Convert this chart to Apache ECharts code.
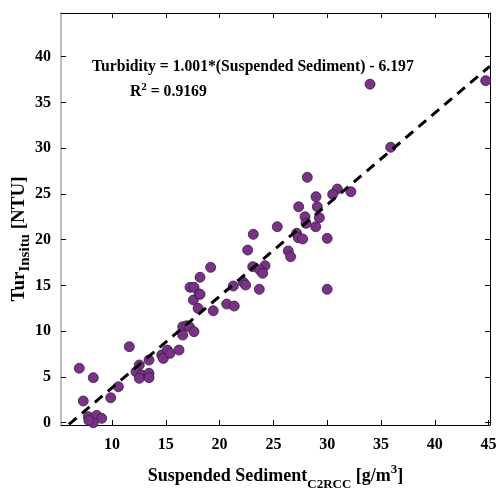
<!DOCTYPE html>
<html><head><meta charset="utf-8">
<script src="https://cdn.jsdelivr.net/npm/echarts@6/dist/echarts.min.js"></script>
<style>html,body{margin:0;padding:0;background:#fff}#c{width:496px;height:490px}</style>
</head><body><div id="c"></div>
<script>
// Suspended sediment (C2RCC) [g/m3]
var sediment = [6.96,8.26,7.33,7.8,8.58,9.04,8.26,7.85,9.88,10.59,11.61,12.54,12.23,12.76,12.54,13.44,13.44,13.44,
  14.62,14.77,15.14,15.39,16.23,16.57,16.57,16.95,17.19,17.62,17.25,17.62,17.56,18.1,18.0,
  28.15,28.96,29.08,27.35,27.94,28.03,29.27,28.93,30.0,25.36,23.13,27.16,27.31,27.72,22.61,26.38,26.6,
  24.22,23.08,23.75,24.0,22.2,22.42,23.69,30.0,21.27,20.66,21.36,19.41,19.17,18.18,18.18,
  33.98,44.73,35.9,30.94,30.51,32.2];
// In-situ turbidity [NTU]
var turbidity = [5.95,4.92,2.37,0.66,0.8,0.48,0.0,0.25,2.73,3.93,8.31,6.31,5.57,5.21,4.85,6.85,5.4,4.92,
  7.4,7.03,7.94,7.58,7.94,10.49,9.58,10.6,10.49,9.95,14.8,14.8,13.41,14.07,12.5,
  26.82,24.7,23.6,23.6,22.51,21.79,22.4,21.42,20.15,21.42,20.59,20.7,20.22,20.08,18.87,18.77,18.14,
  17.16,17.05,16.69,16.33,15.34,15.05,14.58,14.58,14.94,12.97,12.75,12.24,16.98,15.89,14.03,
  37.0,37.38,30.1,25.54,24.96,25.25];
var xTicks = [10,15,20,25,30,35,40,45];
var yTicks = [0,5,10,15,20,25,30,35,40];
var fitSlope = 1.001, fitIntercept = -6.197;
var fitRange = [6.0, 45.1];
var equationText = 'Turbidity = 1.001*(Suspended Sediment) - 6.197';
var r2Value = '0.9169';

var pts = sediment.map(function(x,i){return [x, turbidity[i]];});
var fitLine = fitRange.map(function(x){return [x, fitSlope*x + fitIntercept];});

var FONT = '"Liberation Serif", "Times New Roman", serif';
var chart = echarts.init(document.getElementById('c'));
var xr = [5.26, 45.13], yr = [-0.25, 44.78];
function baseAxis(extra){
  return Object.assign({
    type:'value', splitLine:{show:false},
    axisTick:{show:true, inside:true, length:5, lineStyle:{color:'#000', width:1}},
    axisLine:{show:true, onZero:false, lineStyle:{color:'#000', width:1}}
  }, extra);
}
chart.setOption({
  animation:false,
  grid:{left:61, right:6, top:13, bottom:65, containLabel:false, outerBoundsMode:'none'},
  xAxis:[
    baseAxis({min:xr[0], max:xr[1], position:'bottom',
      axisTick:{show:true, inside:true, length:5, customValues:xTicks, lineStyle:{color:'#000'}},
      axisLabel:{customValues:xTicks, margin:12, color:'#000', fontFamily:FONT, fontWeight:'bold', fontSize:16},
      name:'{a|Suspended Sediment}{s|C2RCC}{a| [g/m}{p|3}{a|]}', nameLocation:'middle', nameGap:38,
      nameTextStyle:{rich:{
        a:{fontFamily:FONT, fontWeight:'bold', fontSize:18, color:'#000', verticalAlign:'bottom', lineHeight:22},
        s:{fontFamily:FONT, fontWeight:'bold', fontSize:13, color:'#000', verticalAlign:'bottom', lineHeight:14, padding:[0,0,-6,0]},
        p:{fontFamily:FONT, fontWeight:'bold', fontSize:13, color:'#000', verticalAlign:'top', lineHeight:14, padding:[0,0,8,0]}
      }}
    }),
    baseAxis({min:xr[0], max:xr[1], position:'top',
      axisTick:{show:true, inside:true, length:5, customValues:xTicks, lineStyle:{color:'#000'}},
      axisLabel:{show:false}})
  ],
  yAxis:[
    baseAxis({min:yr[0], max:yr[1], position:'left',
      axisLine:{show:true, onZero:false, lineStyle:{color:'#aaaaaa', width:1.5}},
      axisTick:{show:true, inside:true, length:5, customValues:yTicks, lineStyle:{color:'#000'}},
      axisLabel:{customValues:yTicks, margin:10, color:'#000', fontFamily:FONT, fontWeight:'bold', fontSize:16},
      name:'{a|Tur}{s|Insitu}{a| [NTU]}', nameLocation:'middle', nameGap:32, nameRotate:90, nameMoveOverlap:false,
      nameTextStyle:{padding:[0,40,0,0], rich:{
        a:{fontFamily:FONT, fontWeight:'bold', fontSize:19, color:'#000', verticalAlign:'bottom', lineHeight:22},
        s:{fontFamily:FONT, fontWeight:'bold', fontSize:15, color:'#000', verticalAlign:'bottom', lineHeight:14, padding:[0,0,-4,0]}
      }}
    }),
    baseAxis({min:yr[0], max:yr[1], position:'right',
      axisTick:{show:true, inside:true, length:5, customValues:yTicks, lineStyle:{color:'#000'}},
      axisLabel:{show:false}})
  ],
  series:[
    {type:'scatter', data:pts, symbol:'circle', symbolSize:10,
      itemStyle:{color:'#7E2F8E', borderColor:'#2a2a2a', borderWidth:0.8, opacity:1}, z:2},
    {type:'line', data:fitLine, showSymbol:false, symbol:'none', z:3,
      lineStyle:{color:'#000', width:3, type:[10,7]}}
  ],
  graphic:[
    {type:'text', left:92, top:59, style:{text:equationText, font:'bold 15.7px '+FONT, fill:'#000'}},
    {type:'text', left:130, top:82, style:{text:'{a|R}{p|2}{a| = }{a|'+r2Value+'}', font:'bold 15.7px '+FONT, fill:'#000',
      rich:{a:{font:'bold 15.7px '+FONT, fill:'#000', verticalAlign:'bottom', lineHeight:18},
            p:{font:'bold 11px '+FONT, fill:'#000', verticalAlign:'top', lineHeight:12, padding:[0,0,8,0]}}}}
  ]
});
</script></body></html>
